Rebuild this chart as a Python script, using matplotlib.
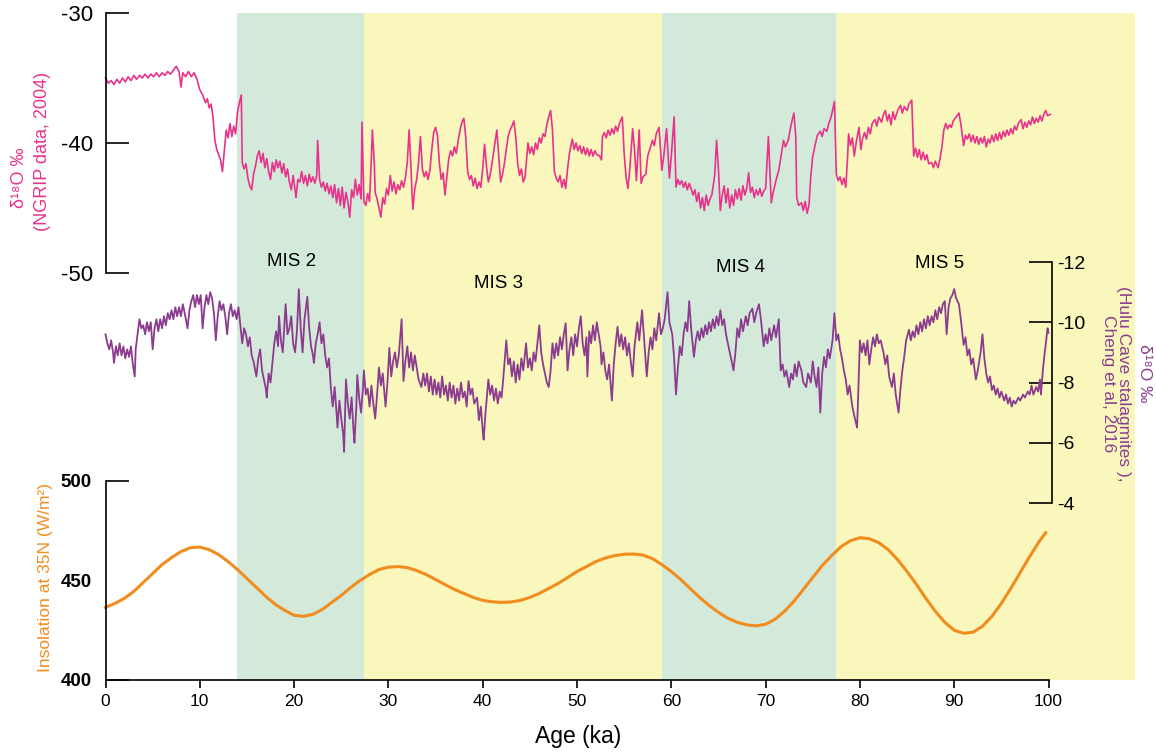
import matplotlib

matplotlib.use("Agg")
import matplotlib.pyplot as plt

plt.rcParams["font.family"] = ["Liberation Sans", "DejaVu Sans"]
plt.rcParams["axes.unicode_minus"] = False

########################################################################
# Data
########################################################################

MIS_LABELS = ["MIS 2", "MIS 3", "MIS 4", "MIS 5"]
MIS_START = [13.9, 27.4, 59.0, 77.5]
MIS_END = [27.4, 59.0, 77.5, 109.2]

NGRIP_AGE = [
    0.0, 0.3, 0.6, 0.9, 1.2, 1.5, 1.8, 2.1, 2.4, 2.7, 3.0, 3.3, 3.6, 3.9, 4.2, 4.5, 4.8, 5.1,
    5.4, 5.7, 6.0, 6.3, 6.6, 6.9, 7.2, 7.5, 7.8, 8.0, 8.2, 8.5, 8.8, 9.1, 9.4, 9.7, 10.0, 10.3,
    10.6, 10.8, 11.0, 11.2, 11.4, 11.6, 11.8, 12.0, 12.2, 12.4, 12.6, 12.8, 13.0, 13.2, 13.4,
    13.6, 13.8, 14.0, 14.2, 14.4, 14.5, 14.7, 14.9, 15.1, 15.3, 15.5, 15.7, 15.9, 16.1, 16.3,
    16.5, 16.7, 16.9, 17.1, 17.3, 17.5, 17.7, 17.9, 18.1, 18.3, 18.5, 18.7, 18.9, 19.1, 19.3,
    19.5, 19.7, 19.9, 20.2, 20.4, 20.6, 20.8, 21.0, 21.2, 21.4, 21.6, 21.8, 22.0, 22.2, 22.4,
    22.5, 22.7, 22.9, 23.1, 23.3, 23.5, 23.7, 23.9, 24.1, 24.3, 24.5, 24.7, 24.9, 25.1, 25.3,
    25.5, 25.7, 25.9, 26.1, 26.3, 26.5, 26.7, 26.9, 27.1, 27.2, 27.4, 27.6, 27.8, 28.0, 28.2,
    28.3, 28.5, 28.6, 28.8, 29.0, 29.2, 29.4, 29.6, 29.8, 30.0, 30.2, 30.4, 30.6, 30.8, 31.0,
    31.2, 31.4, 31.6, 31.8, 32.0, 32.2, 32.4, 32.5, 32.6, 32.8, 33.0, 33.2, 33.4, 33.6, 33.8,
    34.0, 34.2, 34.4, 34.6, 34.8, 35.0, 35.2, 35.4, 35.6, 35.8, 36.0, 36.2, 36.4, 36.6, 36.8,
    37.0, 37.2, 37.4, 37.6, 37.8, 38.0, 38.2, 38.4, 38.6, 38.8, 39.0, 39.2, 39.4, 39.6, 39.8,
    40.0, 40.2, 40.4, 40.6, 40.8, 41.0, 41.3, 41.5, 41.7, 41.9, 42.1, 42.3, 42.5, 42.7, 42.9,
    43.1, 43.3, 43.5, 43.7, 43.9, 44.1, 44.3, 44.5, 44.8, 45.0, 45.2, 45.4, 45.6, 45.8, 46.0,
    46.2, 46.4, 46.6, 46.8, 47.0, 47.2, 47.4, 47.6, 47.8, 48.0, 48.2, 48.4, 48.6, 48.8, 49.0,
    49.2, 49.5, 49.7, 49.9, 50.1, 50.3, 50.5, 50.7, 50.9, 51.1, 51.3, 51.5, 51.7, 51.9, 52.1,
    52.4, 52.6, 52.7, 52.9, 53.1, 53.3, 53.5, 53.7, 53.9, 54.1, 54.3, 54.5, 54.8, 55.0, 55.2,
    55.4, 55.6, 55.9, 56.1, 56.3, 56.6, 56.8, 57.0, 57.3, 57.5, 57.8, 58.0, 58.2, 58.4, 58.7,
    59.0, 59.2, 59.5, 59.8, 60.0, 60.3, 60.5, 60.7, 60.9, 61.1, 61.3, 61.5, 61.7, 61.9, 62.1,
    62.3, 62.5, 62.7, 62.9, 63.1, 63.3, 63.5, 63.7, 63.9, 64.1, 64.3, 64.6, 64.8, 65.0, 65.2,
    65.4, 65.6, 65.8, 66.0, 66.2, 66.4, 66.6, 66.8, 67.0, 67.2, 67.4, 67.6, 67.8, 68.0, 68.2,
    68.4, 68.6, 68.8, 69.0, 69.2, 69.4, 69.6, 69.8, 70.0, 70.3, 70.6, 70.8, 71.0, 71.2, 71.4,
    71.6, 71.9, 72.1, 72.4, 72.6, 72.8, 73.0, 73.2, 73.3, 73.5, 73.8, 74.0, 74.2, 74.4, 74.6,
    74.8, 75.0, 75.3, 75.5, 75.8, 76.0, 76.2, 76.5, 76.7, 76.9, 77.1, 77.3, 77.5, 77.7, 77.9,
    78.1, 78.3, 78.5, 78.7, 78.8, 79.0, 79.2, 79.4, 79.6, 79.9, 80.1, 80.3, 80.5, 80.7, 80.9,
    81.1, 81.3, 81.6, 81.8, 82.0, 82.3, 82.5, 82.7, 82.9, 83.1, 83.3, 83.5, 83.7, 84.0, 84.3,
    84.5, 84.7, 85.0, 85.2, 85.5, 85.7, 85.9, 86.1, 86.3, 86.5, 86.7, 86.9, 87.1, 87.3, 87.6,
    87.8, 88.0, 88.3, 88.5, 88.7, 88.9, 89.1, 89.3, 89.5, 89.7, 89.9, 90.2, 90.5, 90.7, 91.0,
    91.2, 91.4, 91.6, 91.8, 92.0, 92.2, 92.4, 92.6, 92.8, 93.0, 93.2, 93.4, 93.6, 93.8, 94.0,
    94.2, 94.4, 94.6, 94.8, 95.0, 95.2, 95.4, 95.6, 95.8, 96.0, 96.2, 96.4, 96.6, 96.8, 97.1,
    97.3, 97.5, 97.7, 97.9, 98.1, 98.3, 98.5, 98.7, 98.9, 99.1, 99.3, 99.5, 99.7, 99.9, 100.2,
]
NGRIP_D18O = [
    -35.0, -35.4, -35.2, -35.5, -35.1, -35.4, -35.0, -35.3, -34.9, -35.2, -34.8, -35.1, -34.8,
    -35.0, -34.7, -35.0, -34.7, -34.9, -34.6, -34.9, -34.6, -34.8, -34.5, -34.7, -34.4, -34.1,
    -34.5, -35.7, -34.6, -34.9, -34.5, -34.9, -34.6, -35.1, -35.9, -36.3, -36.9, -36.6, -37.3,
    -37.0, -38.0, -39.8, -40.5, -40.9, -41.3, -42.2, -40.6, -39.0, -39.6, -38.5, -39.5, -38.7,
    -39.3, -37.6, -36.9, -36.3, -41.5, -42.0, -41.6, -42.7, -43.3, -43.6, -42.4, -41.8, -41.0,
    -40.6, -41.5, -40.8, -41.9, -41.2, -42.2, -42.8, -41.5, -42.2, -41.3, -41.9, -41.4, -42.3,
    -41.6, -42.6, -42.0, -43.0, -43.6, -42.5, -44.2, -42.8, -43.0, -42.2, -43.1, -42.5, -43.3,
    -42.4, -43.0, -42.6, -43.1, -42.5, -39.8, -42.8, -43.4, -43.0, -43.7, -43.1, -43.9, -43.3,
    -44.2, -43.2, -44.6, -43.5, -44.8, -43.4, -45.0, -43.8, -44.5, -45.7, -43.6, -44.2, -42.8,
    -44.0, -43.2, -44.3, -38.4, -44.5, -44.8, -43.9, -44.5, -41.0, -39.0, -41.5, -43.8, -44.3,
    -45.0, -45.7, -44.2, -44.7, -43.5, -44.0, -42.5, -43.7, -43.0, -43.9, -43.2, -43.6, -42.9,
    -43.4, -42.7, -41.5, -39.0, -42.0, -43.8, -45.1, -43.5, -42.8, -41.5, -39.5, -42.0, -42.6,
    -42.2, -42.8, -42.1, -40.5, -39.2, -38.8, -39.4, -41.5, -42.8, -42.3, -44.0, -42.6, -41.2,
    -40.6, -41.0, -40.3, -40.8, -39.8, -39.0, -38.4, -38.1, -39.5, -42.2, -42.8, -42.5, -43.3,
    -42.7, -43.5, -43.0, -43.4, -42.0, -40.1, -41.8, -43.0, -42.4, -41.5, -40.0, -39.0, -41.0,
    -43.0, -42.4, -41.6, -40.5, -39.5, -39.0, -38.7, -38.3, -39.5, -41.5, -42.5, -42.0, -43.0,
    -42.6, -40.0, -40.8, -40.3, -40.9, -40.0, -40.5, -39.6, -40.0, -39.3, -39.5, -38.6, -38.0,
    -37.5, -39.0, -42.2, -42.7, -43.0, -42.5, -43.4, -42.8, -43.5, -42.0, -40.8, -39.7, -40.5,
    -40.0, -40.6, -40.2, -40.8, -40.3, -40.9, -40.4, -41.0, -40.5, -41.0, -40.6, -40.9, -41.0,
    -41.3, -39.5, -39.2, -39.6, -39.0, -39.4, -38.9, -39.3, -38.7, -39.1, -38.5, -38.0, -40.8,
    -42.6, -43.5, -42.0, -38.9, -40.5, -42.9, -39.0, -43.1, -42.6, -42.4, -41.0, -40.3, -39.8,
    -40.2, -39.3, -38.8, -42.1, -41.0, -38.9, -42.7, -41.0, -38.0, -43.4, -42.8, -43.2, -42.9,
    -43.4, -43.0, -43.6, -43.1, -43.5, -44.0, -43.6, -44.5, -43.8, -45.0, -44.2, -45.2, -44.0,
    -44.8, -44.3, -44.0, -42.5, -39.8, -42.0, -45.2, -44.0, -43.3, -44.6, -43.5, -45.0, -44.0,
    -44.8, -43.6, -44.3, -43.5, -44.4, -43.3, -44.0, -43.5, -42.3, -43.8, -43.4, -44.2, -43.6,
    -44.0, -43.5, -44.1, -43.7, -43.5, -39.5, -44.6, -43.8, -43.2, -42.6, -42.1, -41.2, -39.8,
    -40.3, -39.8, -39.0, -38.3, -37.7, -39.5, -44.2, -44.8, -44.6, -45.2, -44.5, -45.4, -44.8,
    -42.5, -41.0, -40.0, -39.4, -39.1, -39.5, -38.9, -39.1, -38.5, -38.1, -37.5, -36.8, -42.4,
    -42.9, -42.6, -43.2, -42.7, -43.4, -41.0, -39.3, -40.2, -39.6, -41.0, -40.0, -38.8, -40.5,
    -39.6, -39.2, -39.7, -38.8, -39.3, -38.5, -38.2, -38.7, -38.0, -38.4, -37.8, -37.5, -38.3,
    -37.8, -38.6, -37.6, -38.2, -37.5, -37.1, -37.7, -37.2, -37.5, -37.0, -36.7, -41.0, -40.4,
    -41.1, -40.5, -41.3, -40.7, -41.3, -40.9, -41.6, -41.5, -41.9, -41.4, -41.9, -41.2, -40.3,
    -39.0, -38.5, -38.9, -38.6, -38.8, -38.3, -38.0, -37.7, -38.5, -40.2, -39.4, -39.7, -39.3,
    -39.9, -39.4, -40.0, -39.5, -40.1, -39.6, -40.0, -39.5, -40.3, -39.7, -40.0, -39.4, -39.9,
    -39.3, -39.8, -39.2, -39.7, -39.1, -39.5, -39.0, -39.4, -38.9, -39.3, -38.7, -39.0, -38.5,
    -38.2, -38.9, -38.4, -38.8, -38.3, -38.6, -38.0, -38.5, -38.1, -38.4, -37.9, -38.3, -37.8,
    -37.5, -37.9, -37.8,
]

HULU_AGE = [
    0.0, 0.2, 0.4, 0.6, 0.8, 0.9, 1.1, 1.3, 1.5, 1.7, 1.9, 2.1, 2.3, 2.5, 2.7, 2.9, 3.1, 3.2,
    3.4, 3.6, 3.8, 4.0, 4.2, 4.4, 4.6, 4.8, 5.0, 5.2, 5.4, 5.6, 5.8, 6.0, 6.2, 6.4, 6.6, 6.8,
    7.0, 7.2, 7.4, 7.6, 7.8, 8.0, 8.2, 8.4, 8.7, 8.9, 9.1, 9.3, 9.5, 9.7, 9.9, 10.1, 10.3, 10.5,
    10.7, 10.9, 11.1, 11.3, 11.5, 11.7, 11.9, 12.1, 12.3, 12.5, 12.7, 12.9, 13.1, 13.3, 13.5,
    13.7, 13.9, 14.1, 14.3, 14.5, 14.7, 14.9, 15.1, 15.3, 15.5, 15.7, 16.0, 16.2, 16.4, 16.6,
    16.8, 17.0, 17.1, 17.3, 17.5, 17.7, 17.9, 18.1, 18.3, 18.4, 18.6, 18.8, 19.0, 19.1, 19.3,
    19.5, 19.7, 19.9, 20.1, 20.3, 20.5, 20.7, 20.9, 21.1, 21.4, 21.6, 21.8, 22.0, 22.1, 22.3,
    22.5, 22.7, 22.9, 23.1, 23.3, 23.5, 23.7, 23.9, 24.1, 24.3, 24.5, 24.6, 24.8, 25.0, 25.2,
    25.3, 25.5, 25.7, 25.9, 26.1, 26.3, 26.4, 26.6, 26.7, 26.9, 27.1, 27.3, 27.4, 27.6, 27.8,
    28.0, 28.2, 28.4, 28.6, 28.8, 29.0, 29.2, 29.4, 29.7, 29.9, 30.1, 30.3, 30.5, 30.7, 30.9,
    31.1, 31.4, 31.6, 31.8, 32.0, 32.2, 32.4, 32.6, 32.8, 33.0, 33.2, 33.5, 33.7, 33.9, 34.1,
    34.3, 34.5, 34.7, 34.9, 35.1, 35.3, 35.5, 35.7, 35.9, 36.1, 36.3, 36.5, 36.7, 36.9, 37.1,
    37.3, 37.5, 37.7, 37.9, 38.1, 38.3, 38.5, 38.7, 38.9, 39.1, 39.4, 39.6, 39.8, 40.0, 40.1,
    40.3, 40.6, 40.8, 41.0, 41.2, 41.4, 41.6, 41.8, 42.0, 42.2, 42.5, 42.7, 42.9, 43.1, 43.3,
    43.5, 43.7, 43.9, 44.1, 44.3, 44.6, 44.8, 45.0, 45.2, 45.4, 45.6, 45.8, 46.0, 46.2, 46.4,
    46.6, 46.8, 47.0, 47.2, 47.4, 47.6, 47.8, 48.0, 48.2, 48.4, 48.6, 48.8, 49.0, 49.2, 49.4,
    49.6, 49.8, 50.0, 50.2, 50.4, 50.6, 50.8, 51.0, 51.1, 51.3, 51.5, 51.7, 51.9, 52.1, 52.3,
    52.5, 52.6, 52.8, 53.0, 53.2, 53.4, 53.6, 53.7, 53.9, 54.1, 54.3, 54.5, 54.7, 54.9, 55.1,
    55.3, 55.5, 55.7, 55.9, 56.1, 56.4, 56.6, 56.9, 57.1, 57.4, 57.6, 57.8, 58.0, 58.2, 58.4,
    58.7, 58.9, 59.1, 59.3, 59.6, 59.8, 60.1, 60.3, 60.5, 60.7, 60.9, 61.1, 61.3, 61.5, 61.7,
    61.9, 62.1, 62.4, 62.6, 62.8, 63.0, 63.2, 63.4, 63.6, 63.8, 64.0, 64.2, 64.4, 64.6, 64.8,
    65.0, 65.2, 65.4, 65.6, 65.8, 66.0, 66.2, 66.4, 66.6, 66.8, 67.0, 67.2, 67.4, 67.6, 67.9,
    68.1, 68.3, 68.6, 68.8, 69.0, 69.3, 69.5, 69.8, 70.0, 70.2, 70.4, 70.6, 70.9, 71.1, 71.4,
    71.6, 71.8, 72.0, 72.2, 72.5, 72.7, 72.9, 73.1, 73.3, 73.5, 73.8, 74.0, 74.3, 74.5, 74.8,
    75.0, 75.2, 75.4, 75.6, 75.8, 76.0, 76.2, 76.4, 76.6, 76.8, 77.1, 77.3, 77.5, 77.7, 77.9,
    78.1, 78.3, 78.5, 78.7, 78.9, 79.2, 79.4, 79.7, 79.8, 80.0, 80.2, 80.4, 80.6, 80.8, 81.0,
    81.2, 81.4, 81.6, 81.8, 82.0, 82.2, 82.5, 82.7, 82.9, 83.1, 83.4, 83.6, 83.8, 84.0, 84.1,
    84.3, 84.5, 84.7, 84.9, 85.2, 85.4, 85.6, 85.8, 86.0, 86.2, 86.4, 86.6, 86.8, 87.0, 87.2,
    87.4, 87.6, 87.8, 88.0, 88.2, 88.4, 88.6, 88.8, 89.0, 89.2, 89.4, 89.6, 89.8, 90.0, 90.2,
    90.5, 90.7, 91.0, 91.2, 91.4, 91.6, 91.8, 92.0, 92.3, 92.5, 92.8, 93.0, 93.2, 93.4, 93.6,
    93.8, 94.0, 94.2, 94.4, 94.6, 94.8, 95.0, 95.3, 95.5, 95.7, 95.9, 96.1, 96.3, 96.5, 96.8,
    97.0, 97.3, 97.5, 97.8, 98.0, 98.2, 98.4, 98.7, 98.9, 99.1, 99.2, 99.4, 99.6, 99.7, 99.9,
    100.0,
]
HULU_D18O = [
    -9.6, -9.3, -9.1, -9.4, -9.0, -8.65, -9.2, -8.9, -9.3, -8.9, -9.2, -8.8, -9.1, -8.85, -9.2,
    -8.6, -8.2, -9.1, -9.6, -10.1, -9.8, -9.9, -9.6, -10.0, -9.7, -10.0, -9.1, -9.8, -10.1,
    -9.7, -10.1, -9.8, -10.2, -9.9, -10.3, -10.1, -10.4, -10.1, -10.5, -10.2, -10.5, -10.2,
    -10.6, -10.3, -9.8, -10.4, -10.7, -10.9, -10.5, -10.9, -10.6, -10.9, -9.8, -10.5, -10.9,
    -10.6, -11.0, -10.8, -10.3, -9.4, -10.2, -10.7, -10.4, -10.6, -10.2, -9.6, -10.3, -10.6,
    -10.2, -10.4, -10.1, -10.5, -9.9, -9.3, -9.8, -9.6, -9.2, -9.5, -8.9, -8.7, -8.2, -8.8,
    -9.1, -8.4, -8.1, -7.8, -7.5, -8.3, -8.0, -8.65, -9.3, -9.7, -9.2, -10.2, -9.4, -9.0,
    -10.1, -10.6, -9.6, -9.8, -10.2, -9.3, -9.0, -9.7, -11.1, -9.8, -9.0, -10.1, -10.85, -9.8,
    -9.2, -8.9, -8.65, -9.3, -9.6, -10.0, -9.3, -9.6, -8.9, -8.5, -8.8, -7.8, -7.2, -7.85,
    -7.0, -6.5, -7.4, -6.8, -6.3, -5.7, -8.1, -7.3, -6.8, -7.5, -6.4, -6.0, -7.2, -8.25, -7.5,
    -7.0, -7.8, -8.4, -7.6, -7.8, -7.2, -7.9, -7.3, -6.8, -7.6, -8.5, -7.9, -8.3, -7.2, -8.0,
    -9.15, -8.2, -8.7, -9.0, -8.5, -8.9, -10.1, -8.05, -8.7, -9.2, -8.5, -9.0, -8.4, -8.9,
    -8.5, -8.1, -7.85, -8.3, -7.9, -8.3, -7.7, -8.2, -7.6, -8.1, -7.6, -8.0, -7.5, -8.2, -7.6,
    -7.9, -7.4, -8.0, -7.5, -7.9, -7.3, -7.8, -7.4, -8.0, -7.5, -7.7, -7.2, -8.05, -7.6, -7.8,
    -7.3, -7.5, -6.75, -7.2, -6.4, -6.1, -7.0, -8.1, -7.6, -7.9, -7.4, -7.8, -7.3, -7.7, -7.5,
    -8.2, -9.4, -8.6, -8.8, -8.2, -8.7, -8.0, -8.6, -8.1, -8.8, -8.4, -9.3, -8.5, -8.8, -8.4,
    -9.0, -8.7, -9.3, -9.9, -9.0, -8.6, -8.3, -8.0, -7.85, -8.4, -9.3, -8.8, -9.3, -8.9, -9.5,
    -9.1, -9.6, -9.97, -8.4, -9.1, -9.5, -8.9, -9.6, -9.2, -9.8, -10.2, -9.3, -8.9, -9.5,
    -8.2, -9.7, -9.3, -9.9, -9.4, -10.0, -9.6, -9.2, -8.6, -9.0, -8.4, -8.1, -8.6, -7.8, -7.4,
    -8.6, -9.3, -9.85, -9.2, -9.6, -9.1, -9.5, -8.9, -9.3, -8.7, -8.2, -9.2, -10.0, -9.4,
    -10.4, -9.5, -8.2, -9.0, -9.5, -9.1, -9.8, -9.4, -10.3, -9.6, -9.8, -10.1, -11.0, -10.0,
    -9.6, -8.8, -7.6, -8.5, -9.2, -8.9, -9.6, -10.0, -9.7, -10.7, -9.8, -8.85, -9.4, -9.7,
    -9.4, -9.8, -9.5, -9.9, -9.6, -10.0, -9.7, -10.1, -9.8, -10.2, -9.9, -10.4, -9.9, -10.1,
    -9.6, -9.3, -9.0, -8.7, -8.4, -9.0, -9.8, -9.5, -10.1, -9.7, -10.2, -9.9, -10.3, -10.45,
    -10.0, -10.3, -10.6, -10.1, -9.2, -9.6, -9.3, -9.8, -9.4, -9.9, -9.5, -10.1, -8.4, -8.6,
    -8.2, -8.4, -7.85, -8.3, -8.1, -8.6, -8.2, -8.7, -8.4, -8.0, -7.85, -8.3, -8.0, -8.7,
    -8.2, -7.85, -8.5, -7.0, -8.3, -8.85, -8.5, -9.1, -8.8, -9.4, -10.3, -9.4, -9.6, -9.1,
    -8.8, -8.4, -8.1, -7.6, -7.9, -7.2, -6.9, -6.5, -7.4, -9.4, -9.0, -9.3, -8.9, -9.4, -8.6,
    -9.1, -9.5, -9.2, -9.6, -9.3, -9.4, -9.0, -8.6, -8.9, -8.2, -7.85, -8.3, -7.6, -7.2, -7.0,
    -7.8, -8.4, -8.85, -9.4, -9.75, -9.4, -9.7, -9.5, -9.9, -9.6, -10.0, -9.7, -10.1, -9.8,
    -10.2, -9.9, -10.2, -10.0, -10.4, -10.1, -10.5, -10.3, -10.6, -10.7, -9.6, -10.5, -10.8,
    -10.9, -11.1, -10.8, -10.6, -10.1, -9.25, -9.5, -8.9, -9.1, -8.6, -8.8, -8.1, -8.4, -9.0,
    -9.6, -8.8, -8.3, -8.0, -8.2, -7.75, -7.9, -7.6, -7.8, -7.5, -7.7, -7.4, -7.6, -7.3, -7.5,
    -7.2, -7.4, -7.3, -7.5, -7.4, -7.6, -7.5, -7.7, -7.6, -7.9, -7.6, -7.85, -7.7, -8.1, -7.6,
    -8.4, -9.0, -9.25, -9.8, -9.65,
]

INSOL_AGE = list(range(0, 100)) + [99.7]
INSOL_WM2 = [
    436.5, 438.5, 441.0, 444.5, 449.0, 453.5, 458.0, 461.5, 464.5, 466.5,
    466.8, 465.5, 463.0, 459.5, 455.5, 451.0, 446.5, 442.0, 438.0, 435.0,
    432.5, 432.0, 433.0, 435.5, 439.0, 442.5, 446.5, 450.0, 453.0, 455.5,
    456.7, 457.0, 456.5, 455.0, 453.0, 450.5, 448.0, 445.5, 443.5, 441.5,
    440.0, 439.3, 439.0, 439.2, 440.0, 441.5, 443.5, 446.0, 448.5, 451.5,
    454.5, 457.0, 459.5, 461.3, 462.5, 463.2, 463.3, 462.8, 461.0, 458.0,
    454.5, 450.5, 446.0, 441.5, 437.5, 434.0, 431.0, 429.0, 427.7, 427.2,
    428.0, 430.5, 434.5, 439.5, 445.5, 451.5, 457.5, 462.5, 467.0, 470.0,
    471.5, 471.0, 469.0, 465.5, 460.5, 454.5, 448.0, 441.0, 434.5, 429.0,
    425.0, 423.5, 424.0, 427.0, 432.0, 438.5, 446.0, 454.0, 462.0, 469.5,
    474.0,
]

X_TICKS = list(range(0, 101, 10))
NGRIP_TICKS = [-50, -40, -30]
HULU_TICKS = [-12, -10, -8, -6, -4]
INSOL_TICKS = [400, 450, 500]

########################################################################
# Style / layout
########################################################################

PINK = "#e8328b"
PURPLE = "#8b3c8f"
ORANGE = "#f28c1e"
GREEN = "#d3eada"
YELLOW = "#f9f7bc"
MIS_COLORS = [GREEN, YELLOW, GREEN, YELLOW]

W_PX, H_PX = 1156, 752
X0_PX, X1_PX = 105.5, 1135.0
PX_PER_KA = 9.43
XMAX = (X1_PX - X0_PX) / PX_PER_KA


def fx(px):
    return px / W_PX


def fy(py):
    return 1.0 - py / H_PX


def kaOf(px):
    return (px - X0_PX) / PX_PER_KA


def addPanel(fig, topPx, bottomPx, zorder):
    ax = fig.add_axes(
        [fx(X0_PX), fy(bottomPx), fx(X1_PX) - fx(X0_PX), (bottomPx - topPx) / H_PX],
        zorder=zorder,
    )
    ax.set_xlim(0, XMAX)
    ax.patch.set_alpha(0)
    for side in ("left", "right", "top", "bottom"):
        ax.spines[side].set_visible(False)
    return ax


fig = plt.figure(figsize=(W_PX / 100, H_PX / 100), dpi=100)

# background: MIS shading
bg = addPanel(fig, 13, 680, 0)
bg.set_ylim(0, 1)
bg.set_xticks([])
bg.set_yticks([])
for start, end, color in zip(MIS_START, MIS_END, MIS_COLORS):
    bg.axvspan(start, end, color=color, linewidth=0)

misPos = [(292, 262), (498, 283), (740, 267), (940, 263)]
for label, (px, py) in zip(MIS_LABELS, misPos):
    fig.text(fx(px), fy(py), label, ha="center", va="center", fontsize=13.5, zorder=5)

# NGRIP panel
top = addPanel(fig, 13, 273, 2)
top.set_ylim(-50, -30)
top.plot(NGRIP_AGE, NGRIP_D18O, color=PINK, linewidth=1.2, clip_on=False)
top.spines["left"].set_visible(True)
top.spines["left"].set_linewidth(1.2)
top.set_xticks([])
top.set_yticks(NGRIP_TICKS)
top.tick_params(axis="y", direction="in", length=16.5, width=1.2, pad=9, labelsize=16)
fig.text(fx(20), fy(178), "δ¹⁸O ‰", rotation=90, ha="center", va="center",
         color=PINK, fontsize=13)
fig.text(fx(43), fy(151), "(NGRIP data, 2004)", rotation=90, ha="center",
         va="center", color=PINK, fontsize=13)

# Hulu panel
mid = addPanel(fig, 262, 503, 3)
mid.set_ylim(-4, -12)
mid.plot(HULU_AGE, HULU_D18O, color=PURPLE, linewidth=1.3, clip_on=False)
mid.spines["right"].set_visible(True)
mid.spines["right"].set_linewidth(1.2)
mid.spines["right"].set_position(("data", kaOf(1052)))
mid.set_xticks([])
mid.yaxis.tick_right()
mid.set_yticks(HULU_TICKS)
mid.tick_params(axis="y", direction="in", length=16.5, width=1.2, pad=4, labelsize=14)
fig.text(fx(1144), fy(373), "δ¹⁸O ‰", rotation=270, ha="center", va="center",
         color=PURPLE, fontsize=12.5)
fig.text(fx(1116), fy(384), "(Hulu Cave stalagmites ),\nCheng et al, 2016",
         rotation=270, ha="center", va="center", multialignment="center",
         color=PURPLE, fontsize=12.5, linespacing=1.0)

# insolation panel
bot = addPanel(fig, 481, 680, 4)
bot.set_ylim(400, 500)
bot.plot(INSOL_AGE, INSOL_WM2, color=ORANGE, linewidth=2.2, clip_on=False)
bot.spines["left"].set_visible(True)
bot.spines["bottom"].set_visible(True)
bot.spines["left"].set_linewidth(1.2)
bot.spines["bottom"].set_linewidth(1.2)
bot.spines["bottom"].set_bounds(0, 100)
bot.set_xticks(X_TICKS)
bot.set_yticks(INSOL_TICKS)
bot.tick_params(axis="y", direction="in", length=16.5, width=1.2, pad=10, labelsize=13.5)
bot.tick_params(axis="x", direction="out", length=6, width=1.2, pad=4, labelsize=12.5)
for lab in bot.get_yticklabels():
    lab.set_fontweight("bold")
bot.yaxis.get_major_ticks()[1].tick1line.set_visible(False)
fig.text(fx(46), fy(578), "Insolation at 35N (W/m²)", rotation=90, ha="center",
         va="center", color=ORANGE, fontsize=12.5)
fig.text(fx(578), fy(737), "Age (ka)", ha="center", va="center", fontsize=16.5)

fig.savefig("out.png", dpi=100)
